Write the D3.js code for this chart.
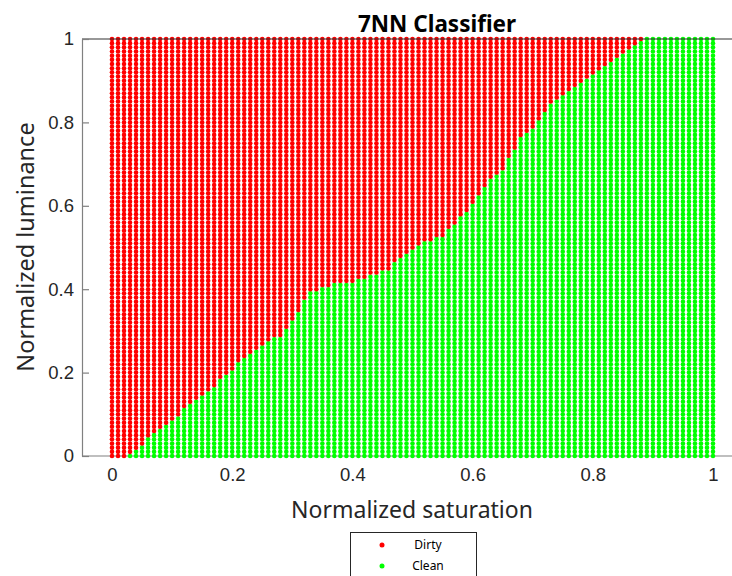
<!DOCTYPE html>
<html>
<head>
<meta charset="utf-8">
<script src="https://cdn.jsdelivr.net/npm/d3@7"></script>
<style>
  html, body { margin: 0; padding: 0; background: #fff; }
  svg { display: block; font-family: "Noto Sans", "Open Sans", sans-serif; }
</style>
</head>
<body>
<svg id="chart" width="732" height="576"></svg>
<script>
// Decision regions of a 7-nearest-neighbour classifier evaluated on a
// regular 101 x 101 grid over (saturation, luminance) in [0, 1].
const gridStep = 0.01;
const gridCount = 101;

// For each saturation column (0, 0.01, ..., 1): how many grid rows, counted
// from luminance 0 upward, are classified as Clean; the rest are Dirty.
const cleanRowsPerColumn = [
  0, 0, 0, 1, 2, 3, 5, 6, 7, 8,
  9, 10, 12, 13, 14, 15, 16, 17, 19, 20,
  21, 23, 24, 25, 26, 27, 28, 29, 29, 31,
  33, 35, 38, 40, 40, 41, 41, 42, 42, 42,
  42, 43, 43, 44, 44, 45, 45, 47, 48, 49,
  50, 51, 52, 52, 53, 53, 55, 56, 58, 59,
  61, 63, 65, 67, 68, 69, 72, 74, 77, 78,
  79, 81, 83, 85, 86, 87, 88, 89, 90, 91,
  92, 93, 94, 95, 96, 97, 98, 99, 100, 101,
  101, 101, 101, 101, 101, 101, 101, 101, 101, 101,
  101
];

const classNames = ["Dirty", "Clean"];
const classColors = ["#ff0000", "#00ff00"];

const saturationTicks = [0, 0.2, 0.4, 0.6, 0.8, 1];
const luminanceTicks = [0, 0.2, 0.4, 0.6, 0.8, 1];

const titleText = "7NN Classifier";
const xLabelText = "Normalized saturation";
const yLabelText = "Normalized luminance";

// Build the grid points with their predicted class.
const points = [];
for (let i = 0; i < gridCount; i++) {
  for (let j = 0; j < gridCount; j++) {
    points.push({
      s: +(i * gridStep).toFixed(2),
      l: +(j * gridStep).toFixed(2),
      cls: j < cleanRowsPerColumn[i] ? 1 : 0
    });
  }
}

const svg = d3.select("#chart");
const axisColor = "#262626";
const lineColor = "#808080";

const x = d3.scaleLinear().domain([0, 1]).range([112, 713]);
const y = d3.scaleLinear().domain([0, 1]).range([456, 39]);
const axisLeftX = 82;
const axisRightX = 740;

// Bottom axis line, drawn beneath the markers
svg.append("line")
  .attr("x1", axisLeftX).attr("x2", axisRightX)
  .attr("y1", y(0)).attr("y2", y(0))
  .attr("stroke", lineColor).attr("stroke-width", 1.2);

// x ticks (point inward, hidden under the markers) and labels
const xAxis = d3.axisBottom(x)
  .tickValues(saturationTicks)
  .tickFormat(d3.format("~g"))
  .tickSizeInner(-7).tickSizeOuter(0).tickPadding(12);
const gx = svg.append("g").attr("transform", `translate(0,${y(0)})`).call(xAxis);
gx.select(".domain").remove();
gx.selectAll(".tick line").attr("stroke", lineColor);
gx.selectAll("text")
  .attr("fill", axisColor)
  .style("font-size", "18.5px");

// Grid markers, coloured by class
svg.append("g")
  .selectAll("circle")
  .data(points)
  .join("circle")
  .attr("cx", d => x(d.s))
  .attr("cy", d => y(d.l))
  .attr("r", 2.3)
  .attr("fill", d => classColors[d.cls]);

// Top box line, drawn over the markers
svg.append("line")
  .attr("x1", axisLeftX).attr("x2", axisRightX)
  .attr("y1", y(1)).attr("y2", y(1))
  .attr("stroke", "#333").attr("stroke-width", 1.2);

// y axis, offset to the left of the data
const yAxis = d3.axisLeft(y)
  .tickValues(luminanceTicks)
  .tickFormat(d3.format("~g"))
  .tickSizeInner(-7).tickSizeOuter(0).tickPadding(8);
const gy = svg.append("g").attr("transform", `translate(${axisLeftX},0)`).call(yAxis);
gy.select(".domain").attr("stroke", lineColor).attr("stroke-width", 1.2);
gy.selectAll(".tick line").attr("stroke", lineColor).attr("stroke-width", 1.2);
gy.selectAll("text")
  .attr("fill", axisColor)
  .style("font-size", "18.5px");

// Title and axis labels
svg.append("text")
  .attr("x", 437).attr("y", 32)
  .attr("text-anchor", "middle")
  .attr("fill", "#000")
  .style("font-size", "22.5px").style("font-weight", "bold")
  .text(titleText);

svg.append("text")
  .attr("x", 412).attr("y", 518)
  .attr("text-anchor", "middle")
  .attr("fill", axisColor)
  .style("font-size", "23px")
  .text(xLabelText);

svg.append("text")
  .attr("transform", "translate(34,247) rotate(-90)")
  .attr("text-anchor", "middle")
  .attr("fill", axisColor)
  .style("font-size", "23.5px")
  .text(yLabelText);

// Legend
const legend = svg.append("g").attr("transform", "translate(350,532)");
legend.append("rect")
  .attr("x", 0.5).attr("y", 0.5)
  .attr("width", 126).attr("height", 60)
  .attr("fill", "#fff")
  .attr("stroke", "#262626").attr("stroke-width", 1);
const entry = legend.selectAll("g.entry")
  .data(classNames)
  .join("g")
  .attr("class", "entry")
  .attr("transform", (d, k) => `translate(0,${13 + k * 21})`);
entry.append("circle")
  .attr("cx", 32).attr("cy", 0).attr("r", 2.5)
  .attr("fill", (d, k) => classColors[k]);
entry.append("text")
  .attr("x", 78).attr("y", 0).attr("dy", "0.35em")
  .attr("text-anchor", "middle")
  .attr("fill", "#000")
  .style("font-size", "12px")
  .text(d => d);
</script>
</body>
</html>
